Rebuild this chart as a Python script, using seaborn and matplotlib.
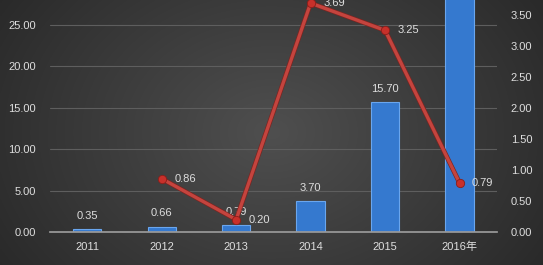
import numpy as np
import pandas as pd
import matplotlib
matplotlib.use("Agg")
import matplotlib.pyplot as plt
import matplotlib.patheffects as pe
import seaborn as sns

# ---- data ----
categories = ["2011", "2012", "2013", "2014", "2015", "2016年"]
bar_values = [0.35, 0.66, 0.79, 3.70, 15.70, 32.0]
line_values = [np.nan, 0.86, 0.20, 3.69, 3.25, 0.79]
left_ticks = [0, 5, 10, 15, 20, 25]
right_ticks = [0, 0.5, 1.0, 1.5, 2.0, 2.5, 3.0, 3.5]

sns.set_theme(style="white")
plt.rcParams["font.family"] = ["Liberation Sans", "Noto Sans CJK SC", "DejaVu Sans"]

txt = "#dedede"
fig = plt.figure(figsize=(5.43, 2.65), dpi=100)

# background gradient
bg = fig.add_axes([0, 0, 1, 1], zorder=-10)
xx, yy = np.meshgrid(np.linspace(-1, 1, 300), np.linspace(-1, 1, 150))
r = np.sqrt((xx * 0.95) ** 2 + (yy * 0.6) ** 2)
v = np.clip(0.31 - 0.13 * r, 0.16, 0.31)
img = np.dstack([v, v, v])
bg.imshow(img, aspect="auto", extent=[0, 1, 0, 1], interpolation="bilinear")
bg.axis("off")

ax = fig.add_axes([0.092, 0.1245, 0.823, 0.8755])
ax.set_facecolor("none")
df = pd.DataFrame({"year": categories, "bar": bar_values, "line": line_values})

sns.barplot(data=df, x="year", y="bar", ax=ax, color="#3579cf", width=0.38,
            edgecolor="#6aa6ee", linewidth=0.8, saturation=1)
ax.set_ylim(0, 28.0)
ax.set_xlim(-0.5, 5.5)
ax.set_yticks(left_ticks)
ax.set_yticklabels([f"{t:.2f}" for t in left_ticks])
ax.grid(axis="y", color="#5e5e5e", linewidth=0.8)
ax.set_axisbelow(True)
ax.set_xlabel("")
ax.set_ylabel("")
for s in ["top", "right", "left"]:
    ax.spines[s].set_visible(False)
ax.spines["bottom"].set_color("#9a9a9a")
ax.tick_params(axis="both", colors=txt, labelsize=8, length=0, pad=10)
ax.tick_params(axis="x", pad=7)

for i, v_ in enumerate(bar_values):
    if v_ < 28:
        ax.annotate(f"{v_:.2f}", (i, v_), xytext=(0, 6), textcoords="offset points",
                    ha="center", va="bottom", color=txt, fontsize=8)

ax2 = ax.twinx()
ax2.set_facecolor("none")
xs = np.arange(len(categories))
sns.lineplot(x=xs, y=line_values, ax=ax2, color="#c4443e", linewidth=2.4,
             path_effects=[pe.Stroke(linewidth=3.4, foreground="#7d2420"), pe.Normal()])
sns.scatterplot(x=xs, y=line_values, ax=ax2, color="#c8302a", s=36,
                edgecolor="#8a1e1a", linewidth=0.6, zorder=5)
ax2.set_ylim(0, 3.74)
ax2.set_xlim(-0.5, 5.5)
ax2.set_yticks(right_ticks)
ax2.set_yticklabels([f"{t:.2f}" for t in right_ticks])
for s in ["top", "right", "left", "bottom"]:
    ax2.spines[s].set_visible(False)
ax2.tick_params(axis="y", colors=txt, labelsize=8, length=0, pad=10)
ax2.grid(False)
for i, v_ in enumerate(line_values):
    if not np.isnan(v_):
        ax2.annotate(f"{v_:.2f}", (i, v_), xytext=(9, 0), textcoords="offset points",
                     ha="left", va="center", color=txt, fontsize=8)

fig.savefig("out.png", dpi=100)
